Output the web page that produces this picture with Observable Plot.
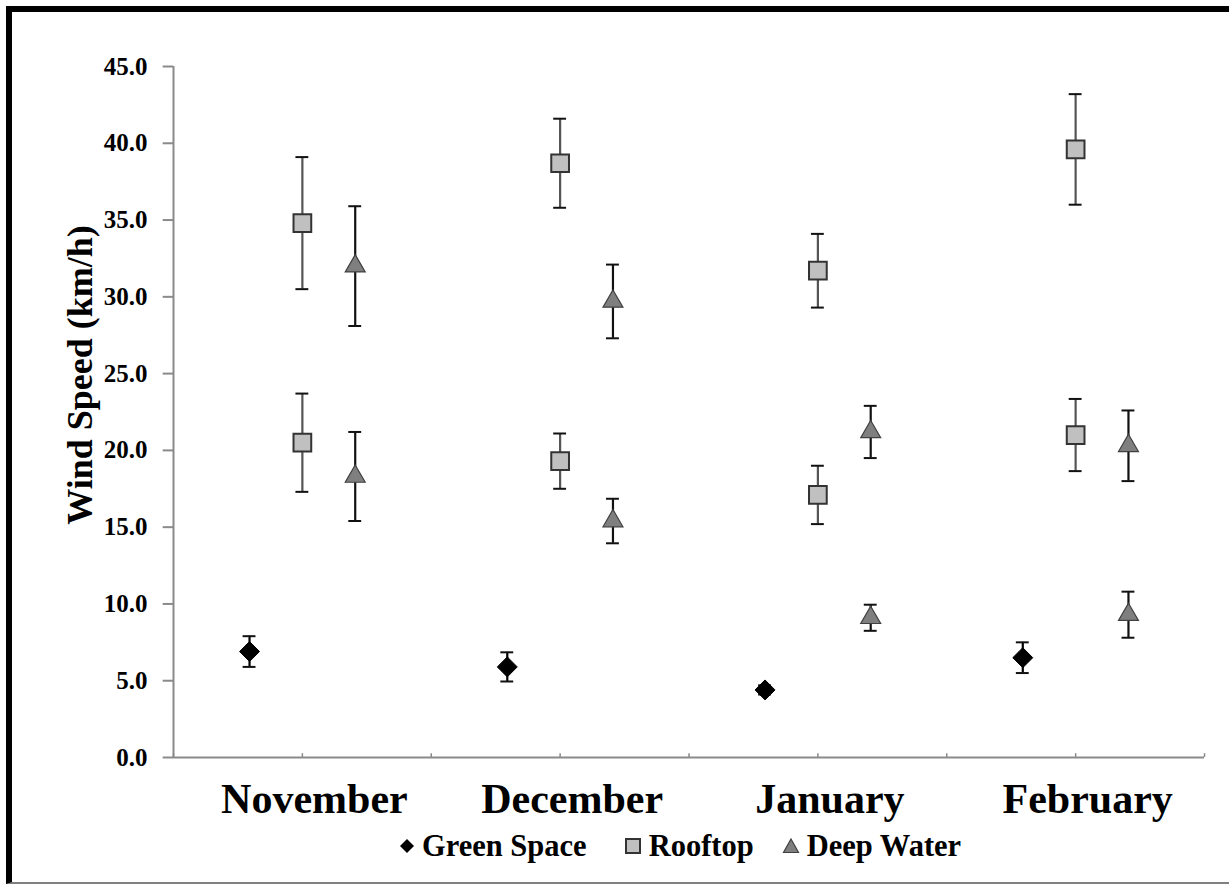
<!DOCTYPE html>
<html>
<head>
<meta charset="utf-8">
<script src="https://cdn.jsdelivr.net/npm/d3@7"></script>
<script src="https://cdn.jsdelivr.net/npm/@observablehq/plot@0.6"></script>
<style>
  html, body { margin: 0; padding: 0; background: #fff; }
  #wrap { position: relative; width: 1229px; height: 886px; overflow: hidden; background: #fff; }
  #frame { position: absolute; left: 6px; top: 6px; width: 1400px; height: 878px; box-sizing: border-box;
           border-left: 6px solid #000; border-top: 6px solid #000; border-bottom: 2px solid #808080; }
  #chart { position: absolute; left: 0; top: 0; }
  #legend { position: absolute; left: 399px; top: 830px; height: 32px; display: flex; align-items: center;
            font-family: "Liberation Serif", "Times New Roman", serif; font-weight: bold; font-size: 30.5px; color: #000; }
  #legend .item { display: flex; align-items: center; }
  #legend svg { margin-right: 7px; }
</style>
</head>
<body>
<div id="wrap">
  <div id="frame"></div>
  <div id="chart"></div>
  <div id="legend"></div>
</div>
<script>
// ---- data ----
const months = ["November", "December", "January", "February"];
const seriesNames = ["Green Space", "Rooftop", "Deep Water"];
const greenMean = [6.9, 5.9, 4.4, 6.5];
const greenErr = [1.0, 0.95, 0.3, 1.0];
const rooftopUpperMean = [34.8, 38.7, 31.7, 39.6];
const rooftopUpperErr = [4.3, 2.9, 2.4, 3.6];
const rooftopLowerMean = [20.5, 19.3, 17.1, 21.0];
const rooftopLowerErr = [3.2, 1.8, 1.9, 2.35];
const deepUpperMean = [32.0, 29.7, 21.2, 20.3];
const deepUpperErr = [3.9, 2.4, 1.7, 2.3];
const deepLowerMean = [18.3, 15.4, 9.1, 9.3];
const deepLowerErr = [2.9, 1.45, 0.85, 1.5];
const yTicks = [0, 5, 10, 15, 20, 25, 30, 35, 40, 45];
const yLabel = "Wind Speed (km/h)";

// ---- styles ----
const style = {
  "Green Space": {offset: -0.41, symbol: "diamond2", r: 9, fill: "#000", stroke: "#000", sw: 1, bar: "#000"},
  "Rooftop": {offset: 0, symbol: "square", r: 10, fill: "#c0c0c0", stroke: "#333", sw: 2, bar: "#555"},
  "Deep Water": {offset: 0.41, symbol: "triangle", r: 7.4, fill: "#7f7f7f", stroke: "#404040", sw: 1.2, bar: "#111"}
};
const font = "'Liberation Serif', 'Times New Roman', serif";

const groups = [
  ["Green Space", greenMean, greenErr],
  ["Rooftop", rooftopUpperMean, rooftopUpperErr],
  ["Rooftop", rooftopLowerMean, rooftopLowerErr],
  ["Deep Water", deepUpperMean, deepUpperErr],
  ["Deep Water", deepLowerMean, deepLowerErr]
];
const rows = [];
for (const [s, means, errs] of groups) {
  means.forEach((m, i) => rows.push({
    series: s, month: months[i], pos: 2 * i + 1 + style[s].offset,
    mean: m, lo: m - errs[i], hi: m + errs[i]
  }));
}
const xTicks = d3.range(0, 2 * months.length + 1);
const capHalf = 0.05;

const marks = [
  // axes
  Plot.ruleX([0], {stroke: "#8a8a8a", strokeWidth: 2}),
  Plot.ruleY(yTicks, {y: d => d, x1: 0, x2: -0.08, stroke: "#8a8a8a", strokeWidth: 2}),
  Plot.ruleY([0], {stroke: "#8a8a8a", strokeWidth: 2}),
  Plot.ruleX(xTicks, {x: d => d, y1: 0, y2: 0.25, stroke: "#8a8a8a", strokeWidth: 1.5}),
  Plot.text(yTicks, {x: 0, y: d => d, dx: -26, text: d => d3.format(".1f")(d), textAnchor: "end",
    fontSize: 25, fontWeight: "bold", fontFamily: font, fill: "#000"}),
  Plot.text(months, {x: (d, i) => 2 * i + 1, y: 0, dx: 12, dy: 42, text: d => d, fontSize: 42,
    fontWeight: "bold", fontFamily: font, fill: "#000"}),
  Plot.text([yLabel], {frameAnchor: "left", textAnchor: "middle", dx: -93, dy: -37, rotate: -90, text: d => d,
    fontSize: 36, fontWeight: "bold", fontFamily: font, fill: "#000"})
];
for (const s of seriesNames) {
  const st = style[s];
  const data = rows.filter(d => d.series === s);
  marks.push(
    Plot.ruleX(data, {x: "pos", y1: "lo", y2: "hi", stroke: st.bar, strokeWidth: 2.2}),
    Plot.ruleY(data, {y: "hi", x1: d => d.pos - capHalf, x2: d => d.pos + capHalf, stroke: "#111", strokeWidth: 2}),
    Plot.ruleY(data, {y: "lo", x1: d => d.pos - capHalf, x2: d => d.pos + capHalf, stroke: "#111", strokeWidth: 2})
  );
}
for (const s of seriesNames) {
  const st = style[s];
  const data = rows.filter(d => d.series === s);
  marks.push(Plot.dot(data, {x: "pos", y: "mean", symbol: st.symbol, r: st.r, fill: st.fill,
    stroke: st.stroke, strokeWidth: st.sw}));
}

const chart = Plot.plot({
  width: 1229,
  height: 820,
  marginLeft: 173,
  marginRight: 25,
  marginTop: 66,
  marginBottom: 63,
  style: {background: "transparent", fontFamily: font, overflow: "visible"},
  x: {domain: [0, 2 * months.length], axis: null},
  y: {domain: [0, 45], axis: null},
  marks
});
document.getElementById("chart").appendChild(chart);

// ---- legend ----
const legendSym = {
  "Green Space": `<svg width="16" height="18" viewBox="0 0 16 18"><path d="M8 2 L15 9 L8 16 L1 9 Z" fill="#000"/></svg>`,
  "Rooftop": `<svg width="18" height="18" viewBox="0 0 18 18"><rect x="2" y="2" width="14" height="14" fill="#c0c0c0" stroke="#333" stroke-width="2"/></svg>`,
  "Deep Water": `<svg width="18" height="18" viewBox="0 0 18 18"><path d="M9 2 L16.5 15.5 L1.5 15.5 Z" fill="#7f7f7f" stroke="#404040" stroke-width="1.2"/></svg>`
};
const gaps = [0, 37, 28];
const legend = document.getElementById("legend");
seriesNames.forEach((s, i) => {
  const item = document.createElement("div");
  item.className = "item";
  item.style.marginLeft = gaps[i] + "px";
  item.innerHTML = legendSym[s] + `<span>${s}</span>`;
  legend.appendChild(item);
});
</script>
</body>
</html>
